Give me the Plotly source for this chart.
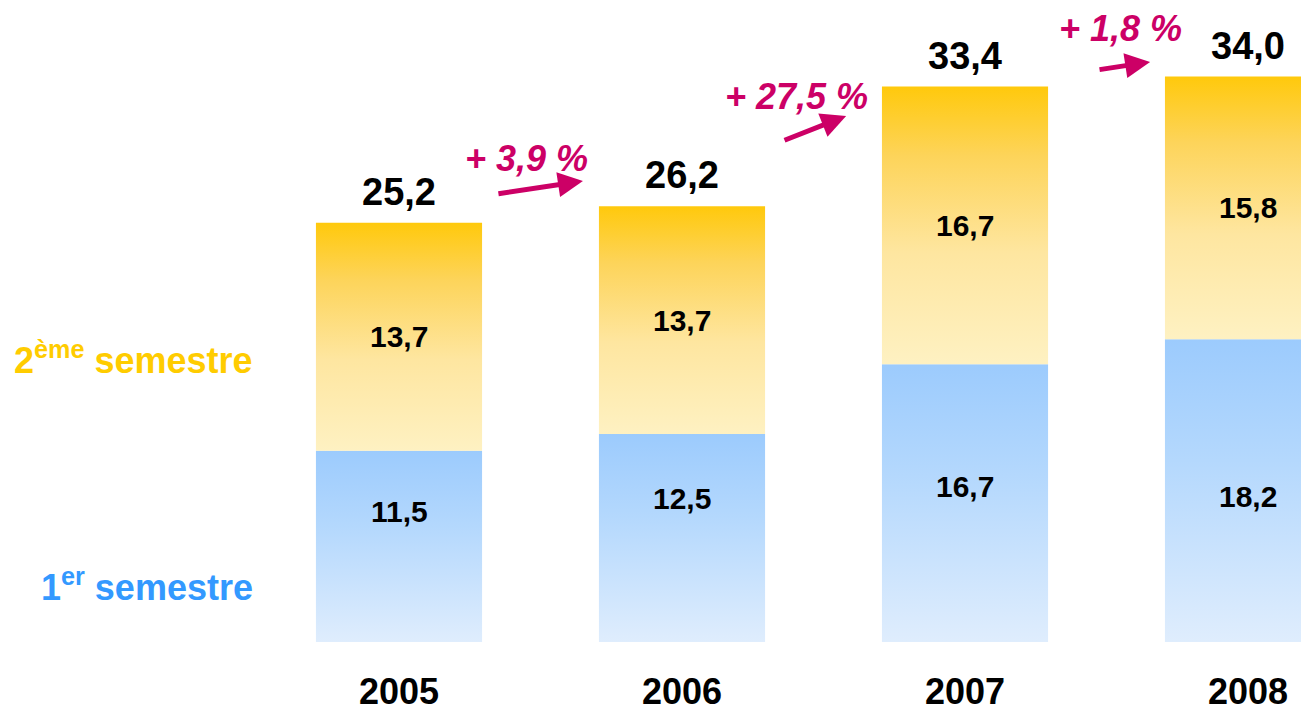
import plotly.graph_objects as go

# ---- data ----
years = ["2005", "2006", "2007", "2008"]
sem1 = [11.5, 12.5, 16.7, 18.2]
sem2 = [13.7, 13.7, 16.7, 15.8]
totals = [25.2, 26.2, 33.4, 34.0]
growth = ["+ 3,9 %", "+ 27,5 %", "+ 1,8 %"]

def fmt(v):
    return f"{v:.1f}".replace(".", ",")

# ---- style / layout ----
W, H = 1301, 697
bar_w = 0.587
x_range = [-1.3816, 3.2155]
y_range = [-3.79, 38.12]
blue_scale = [[0, "#dfedfd"], [0.6, "#b4d8fd"], [1, "#9ccbfd"]]
yellow_scale = [[0, "#fef1c2"], [0.4, "#fee6a0"], [0.75, "#fdd45a"], [1, "#ffc90c"]]
# position of the first-semester value label as a fraction of the segment height
sem1_label_frac = [0.68, 0.69, 0.56, 0.48]
# growth label / arrow placement (x offset from left bar, y in value units)
growth_text_pos = [(0.452, 29.1), (0.403, 32.8), (0.548, 36.9)]
arrow_pos = [((0.346, 26.94), (0.650, 27.72)),
             ((0.357, 30.13), (0.580, 31.63)),
             ((0.470, 34.40), (0.654, 34.88))]
MAGENTA = "#cc0066"
FONT = "Liberation Sans, Arial, sans-serif"

fig = go.Figure()

def seg(i, base, top, scale):
    x0, x1 = i - bar_w / 2, i + bar_w / 2
    fig.add_trace(go.Scatter(
        x=[x0, x1, x1, x0, x0], y=[base, base, top, top, base],
        mode="lines", line=dict(width=0), fill="toself",
        fillgradient=dict(type="vertical", colorscale=scale, start=base, stop=top),
        hoverinfo="skip", showlegend=False))

for i in range(len(years)):
    seg(i, 0, sem1[i], blue_scale)
    seg(i, sem1[i], sem1[i] + sem2[i], yellow_scale)

ann = []
for i, y in enumerate(years):
    ann.append(dict(x=i, y=totals[i], text=f"<b>{fmt(totals[i])}</b>", yshift=31,
                    showarrow=False, yanchor="middle",
                    font=dict(size=38, color="black", family=FONT)))
    ann.append(dict(x=i, y=sem1[i] + sem2[i] / 2, text=f"<b>{fmt(sem2[i])}</b>",
                    showarrow=False, yanchor="middle",
                    font=dict(size=30, color="black", family=FONT)))
    ann.append(dict(x=i, y=sem1[i] * sem1_label_frac[i], text=f"<b>{fmt(sem1[i])}</b>",
                    showarrow=False, yanchor="middle",
                    font=dict(size=30, color="black", family=FONT)))
    ann.append(dict(x=i, y=0, yshift=-50, text=f"<b>{y}</b>", showarrow=False,
                    yanchor="middle",
                    font=dict(size=36, color="black", family=FONT)))

for k, g in enumerate(growth):
    tx, ty = growth_text_pos[k]
    ann.append(dict(x=k + tx, y=ty, text=f"<b><i>{g}</i></b>", showarrow=False,
                    yanchor="middle",
                    font=dict(size=36, color=MAGENTA, family=FONT)))
    (sx, sy), (ex, ey) = arrow_pos[k]
    ann.append(dict(x=k + ex, y=ey, ax=k + sx, ay=sy, axref="x", ayref="y",
                    xref="x", yref="y", text="", showarrow=True,
                    arrowhead=2, arrowsize=1.0, arrowwidth=5, arrowcolor=MAGENTA))

ann.append(dict(xref="paper", yref="paper", x=247 / W, y=1 - 350 / H,
                xanchor="right", yanchor="middle", showarrow=False,
                text="<b>2<sup>ème</sup> semestre</b>",
                font=dict(size=36, color="#ffcc00", family=FONT)))
ann.append(dict(xref="paper", yref="paper", x=247 / W, y=1 - 577 / H,
                xanchor="right", yanchor="middle", showarrow=False,
                text="<b>1<sup>er</sup> semestre</b>",
                font=dict(size=36, color="#3399ff", family=FONT)))

fig.update_layout(
    width=W, height=H, margin=dict(l=0, r=0, t=0, b=0),
    paper_bgcolor="white", plot_bgcolor="white",
    xaxis=dict(range=x_range, visible=False, fixedrange=True),
    yaxis=dict(range=y_range, visible=False, fixedrange=True),
    annotations=ann, showlegend=False,
)

fig.write_html("out.html")
